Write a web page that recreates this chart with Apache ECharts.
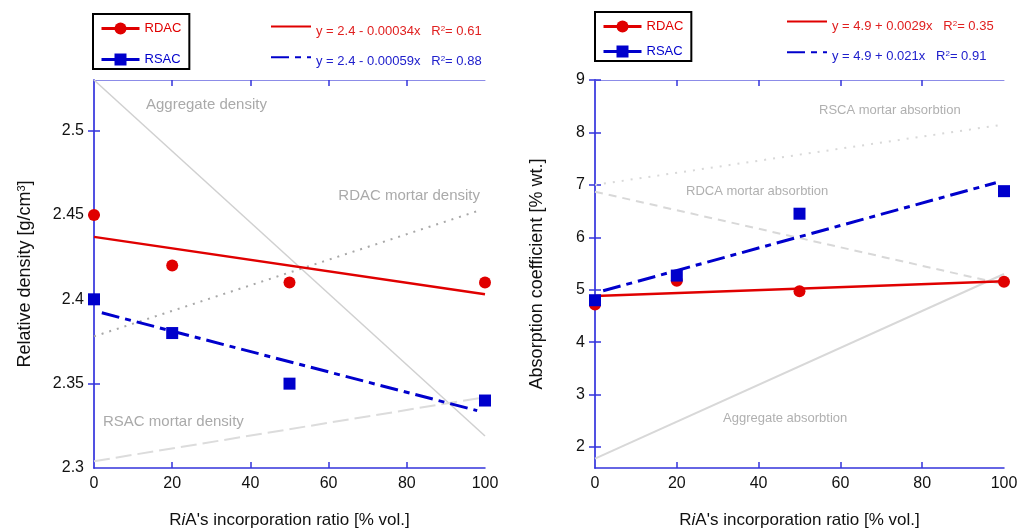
<!DOCTYPE html>
<html><head><meta charset="utf-8">
<script src="https://cdn.jsdelivr.net/npm/echarts@6/dist/echarts.min.js"></script>
<style>html,body{margin:0;padding:0;background:#fff}#c{width:1021px;height:529px}</style>
</head><body><div id="c"></div>
<script>
// ---- data ----
const ratio = [0, 20, 50, 100];
const densRDAC = [2.45, 2.42, 2.41, 2.41];
const densRSAC = [2.40, 2.38, 2.35, 2.34];
const absRDAC = [4.72, 5.17, 4.97, 5.15];
const absRSAC = [4.80, 5.27, 6.45, 6.88];
// fitted trend lines (endpoints)
const densFitRDAC = [[0, 2.437], [100, 2.403]];
const densFitRSAC = [[2, 2.392], [98, 2.334]];
const absFitRDAC = [[0, 4.88], [100, 5.16]];
const absFitRSAC = [[2, 4.98], [98, 7.04]];
// reference lines
const aggDensity = [[0, 2.53], [100, 2.319]];
const rdacMortarDensity = [[0, 2.378], [99, 2.453]];
const rsacMortarDensity = [[0, 2.304], [100, 2.342]];
const aggAbsorption = [[0, 1.78], [100, 5.30]];
const rdcaMortarAbs = [[0, 6.87], [99, 5.12]];
const rscaMortarAbs = [[0, 7.00], [99, 8.14]];
// ticks
const xTicks = [0, 20, 40, 60, 80, 100];
const xInnerTicks = [20, 40, 60, 80];
const densTicks = [2.3, 2.35, 2.4, 2.45, 2.5];
const absTicks = [2, 3, 4, 5, 6, 7, 8, 9];
const fitTexts = {
  fitDR: 'y = 2.4 - 0.00034x   R{sup|2}= 0.61',
  fitDS: 'y = 2.4 - 0.00059x   R{sup|2}= 0.88',
  fitAR: 'y = 4.9 + 0.0029x   R{sup|2}= 0.35',
  fitAS: 'y = 4.9 + 0.021x   R{sup|2}= 0.91'
};

const RED = '#e00000', BLUE = '#0000cc', AX = '#3434dc', AXL = '#8c8ce8';
const FONT = '"Liberation Sans", Arial, sans-serif';
const pts = (xs, ys) => xs.map((x, i) => [x, ys[i]]);

function xAxes(grid) {
  return [
    { type: 'value', gridIndex: grid, min: 0, max: 100, position: 'bottom',
      name: "R{it|i}A's incorporation ratio [% vol.]", nameLocation: 'middle', nameGap: 44,
      nameTextStyle: { fontFamily: FONT, fontSize: 17, color: '#111',
        rich: { it: { fontStyle: 'italic', fontFamily: FONT, fontSize: 17, color: '#111' } } },
      axisLine: { lineStyle: { color: AX, width: 1.5 } },
      axisTick: { inside: true, length: 6, lineStyle: { color: AX, width: 1.5 }, customValues: xInnerTicks },
      axisLabel: { customValues: xTicks, fontFamily: FONT, fontSize: 16, color: '#111', margin: 8 },
      splitLine: { show: false } },
    { type: 'value', gridIndex: grid, min: 0, max: 100, position: 'top',
      axisLine: { lineStyle: { color: AXL, width: 1 } },
      axisTick: { inside: true, length: 6, lineStyle: { color: AX, width: 1.5 }, customValues: xInnerTicks },
      axisLabel: { show: false }, splitLine: { show: false } }
  ];
}
function yAxes(grid, min, max, ticks, inner, name, gap) {
  return [
    { type: 'value', gridIndex: grid, min: min, max: max, position: 'left',
      name: name, nameLocation: 'middle', nameGap: gap,
      nameTextStyle: { fontFamily: FONT, fontSize: 18, color: '#111',
        rich: { sup: { fontFamily: FONT, fontSize: 11, color: '#111', verticalAlign: 'top', lineHeight: 8 } } },
      axisLine: { lineStyle: { color: AX, width: 1.5 } },
      axisTick: { inside: true, length: 6, lineStyle: { color: AX, width: 1.5 }, customValues: inner },
      axisLabel: { customValues: ticks, fontFamily: FONT, fontSize: 16, color: '#111', margin: 10 },
      splitLine: { show: false } },
    { type: 'value', gridIndex: grid, min: min, max: max, position: 'right',
      axisLine: { lineStyle: { color: '#4a4ae0', width: 1.5 } },
      axisTick: { inside: true, length: 6, lineStyle: { color: AX, width: 1.5 }, customValues: inner },
      axisLabel: { show: false }, splitLine: { show: false } }
  ];
}
function refLine(name, xi, yi, data, color, type, width) {
  return { name: name, type: 'line', xAxisIndex: xi, yAxisIndex: yi, data: data, symbol: 'none',
    silent: true, z: 1, lineStyle: { color: color, type: type, width: width } };
}
function fitLine(name, xi, yi, data, color, type, width) {
  return { name: name, type: 'line', xAxisIndex: xi, yAxisIndex: yi, data: data, symbol: 'none',
    symbolSize: 0, z: 3, itemStyle: { color: color, opacity: 0 },
    lineStyle: { color: color, type: type, width: width } };
}
function pointSeries(name, xi, yi, data, color, symbol) {
  return { name: name, type: 'line', xAxisIndex: xi, yAxisIndex: yi, data: data, symbol: symbol,
    symbolSize: 12, showSymbol: true, clip: false, z: 5, itemStyle: { color: color },
    lineStyle: { color: color, width: 3, opacity: 0 } };
}
function dataLegend(left, top, gap, pad) {
  return { left: left, top: top, orient: 'vertical', itemWidth: 38, itemHeight: 15, itemGap: gap,
    padding: pad, borderColor: '#000', borderWidth: 2, borderRadius: 0,
    textStyle: { fontFamily: FONT, fontSize: 13 }, selectedMode: false,
    data: [
      { name: 'RDAC', textStyle: { color: RED }, lineStyle: { color: RED, width: 3, opacity: 1 } },
      { name: 'RSAC', textStyle: { color: BLUE }, lineStyle: { color: BLUE, width: 3, opacity: 1 } }
    ] };
}
function fitLegend(left, top, names, gap) {
  const sup = c => ({ sup: { color: c, fontFamily: FONT, fontSize: 8, verticalAlign: 'top', lineHeight: 8 } });
  return { left: left, top: top, orient: 'vertical', itemWidth: 40, itemHeight: 14, itemGap: gap,
    padding: 0, selectedMode: false,
    formatter: n => fitTexts[n],
    textStyle: { fontFamily: FONT, fontSize: 13, padding: [9, 0, 0, 0], rich: sup('#333') },
    data: [
      { name: names[0], itemStyle: { opacity: 0 }, textStyle: { color: '#e02020', padding: [9, 0, 0, 0], rich: sup('#e02020') } },
      { name: names[1], itemStyle: { opacity: 0 }, textStyle: { color: '#2020cc', padding: [9, 0, 0, 0], rich: sup('#2020cc') } }
    ] };
}
function gtext(x, y, text, size, align, color) {
  return { type: 'text', x: x, y: y, silent: true, z: 2,
    style: { text: text, fontFamily: FONT, fontSize: size, fill: color || '#aaaaaa',
      align: align, verticalAlign: 'middle' } };
}

const chart = echarts.init(document.getElementById('c'), null, { renderer: 'canvas' });
chart.setOption({
  animation: false,
  backgroundColor: '#fff',
  grid: [
    { left: 94, right: 536, top: 80, bottom: 61, outerBoundsMode: 'none', containLabel: false },
    { left: 595, right: 17, top: 80, bottom: 61, outerBoundsMode: 'none', containLabel: false }
  ],
  xAxis: xAxes(0).concat(xAxes(1)),
  yAxis: yAxes(0, 2.3, 2.53, densTicks, [2.35, 2.4, 2.45, 2.5], 'Relative density [g/cm{sup|3}]', 60)
    .concat(yAxes(1, 1.6, 9, absTicks, absTicks, 'Absorption coefficient [% wt.]', 49)),
  legend: [
    dataLegend(93, 14, 18, [8, 8, 3, 7]),
    fitLegend(270, 21, ['fitDR', 'fitDS'], 14),
    dataLegend(595, 12, 12, [8, 8, 3, 7]),
    fitLegend(786, 16, ['fitAR', 'fitAS'], 14)
  ],
  graphic: [
    gtext(146, 105, 'Aggregate density', 15, 'left'),
    gtext(480, 196, 'RDAC mortar density', 15, 'right'),
    gtext(103, 422, 'RSAC mortar density', 15, 'left'),
    gtext(819, 110, 'RSCA mortar absorbtion', 13, 'left', '#b0b0b0'),
    gtext(686, 191, 'RDCA mortar absorbtion', 13, 'left', '#b0b0b0'),
    gtext(723, 418, 'Aggregate absorbtion', 13, 'left', '#b0b0b0')
  ],
  series: [
    // left panel
    refLine('aggD', 0, 0, aggDensity, '#d0d0d0', 'solid', 1.5),
    refLine('rdacMD', 0, 0, rdacMortarDensity, '#a8a8a8', [2, 6], 2),
    refLine('rsacMD', 0, 0, rsacMortarDensity, '#dcdcdc', [16, 6], 2),
    fitLine('fitDR', 0, 0, densFitRDAC, RED, 'solid', 2.5),
    fitLine('fitDS', 0, 0, densFitRSAC, BLUE, [18, 6, 6, 6], 3),
    pointSeries('RDAC', 0, 0, pts(ratio, densRDAC), RED, 'circle'),
    pointSeries('RSAC', 0, 0, pts(ratio, densRSAC), BLUE, 'rect'),
    // right panel
    refLine('aggA', 2, 2, aggAbsorption, '#d8d8d8', 'solid', 2),
    refLine('rdcaMA', 2, 2, rdcaMortarAbs, '#d8d8d8', [8, 6], 2),
    refLine('rscaMA', 2, 2, rscaMortarAbs, '#d8d8d8', [2, 7], 2),
    fitLine('fitAR', 2, 2, absFitRDAC, RED, 'solid', 2.5),
    fitLine('fitAS', 2, 2, absFitRSAC, BLUE, [18, 6, 6, 6], 3),
    pointSeries('RDAC', 2, 2, pts(ratio, absRDAC), RED, 'circle'),
    pointSeries('RSAC', 2, 2, pts(ratio, absRSAC), BLUE, 'rect')
  ]
});
</script></body></html>
